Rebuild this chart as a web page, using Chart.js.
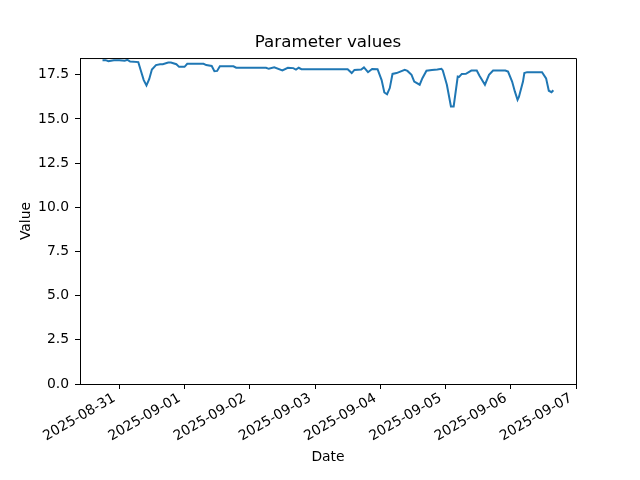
<!DOCTYPE html>
<html>
<head>
<meta charset="utf-8">
<script src="https://cdn.jsdelivr.net/npm/chart.js@4.4.1/dist/chart.umd.min.js"></script>
<style>
  html, body { margin: 0; padding: 0; background: #fff; }
</style>
</head>
<body>
<canvas id="myChart" width="640" height="480"></canvas>
<script>
// readings (time stamps, UTC) and values
const times = [
  '2025-08-30 17:50', '2025-08-30 19:00', '2025-08-30 20:00', '2025-08-30 22:00',
  '2025-08-31 00:00', '2025-08-31 02:00', '2025-08-31 03:00', '2025-08-31 04:00',
  '2025-08-31 07:00', '2025-08-31 08:00', '2025-08-31 09:00', '2025-08-31 10:00',
  '2025-08-31 11:00', '2025-08-31 12:00', '2025-08-31 13:30', '2025-08-31 15:00',
  '2025-08-31 16:00', '2025-08-31 18:00', '2025-08-31 19:00', '2025-08-31 21:00',
  '2025-08-31 22:00', '2025-09-01 00:00', '2025-09-01 01:00', '2025-09-01 07:00',
  '2025-09-01 08:00', '2025-09-01 10:00', '2025-09-01 11:00', '2025-09-01 12:00',
  '2025-09-01 13:00', '2025-09-01 18:00', '2025-09-01 19:00', '2025-09-02 06:00',
  '2025-09-02 07:00', '2025-09-02 09:00', '2025-09-02 12:00', '2025-09-02 14:00',
  '2025-09-02 16:00', '2025-09-02 17:00', '2025-09-02 18:00', '2025-09-02 19:00',
  '2025-09-03 12:00', '2025-09-03 13:30', '2025-09-03 14:30', '2025-09-03 17:00',
  '2025-09-03 18:00', '2025-09-03 19:30', '2025-09-03 21:00', '2025-09-03 23:00',
  '2025-09-04 00:30', '2025-09-04 01:30', '2025-09-04 02:30', '2025-09-04 03:30',
  '2025-09-04 04:30', '2025-09-04 06:00', '2025-09-04 09:00', '2025-09-04 10:00',
  '2025-09-04 11:30', '2025-09-04 12:30', '2025-09-04 14:30', '2025-09-04 15:30',
  '2025-09-04 17:00', '2025-09-04 19:00', '2025-09-04 21:00', '2025-09-04 22:30',
  '2025-09-04 23:00', '2025-09-05 00:30', '2025-09-05 02:00', '2025-09-05 03:00',
  '2025-09-05 04:30', '2025-09-05 05:00', '2025-09-05 06:00', '2025-09-05 07:30',
  '2025-09-05 09:30', '2025-09-05 11:30', '2025-09-05 12:30', '2025-09-05 14:30',
  '2025-09-05 16:00', '2025-09-05 17:30', '2025-09-05 22:00', '2025-09-05 23:00',
  '2025-09-06 00:30', '2025-09-06 01:30', '2025-09-06 02:30', '2025-09-06 03:00',
  '2025-09-06 04:30', '2025-09-06 05:00', '2025-09-06 06:00', '2025-09-06 11:30',
  '2025-09-06 13:00', '2025-09-06 14:00', '2025-09-06 15:00', '2025-09-06 15:40'
];
const values = [
  18.33, 18.33, 18.27, 18.33,
  18.33, 18.30, 18.35, 18.25,
  18.22, 17.70, 17.20, 16.90,
  17.25, 17.80, 18.05, 18.10,
  18.10, 18.20, 18.20, 18.10,
  17.95, 17.95, 18.12, 18.12,
  18.05, 18.00, 17.70, 17.72,
  17.98, 17.98, 17.90, 17.90,
  17.84, 17.92, 17.75, 17.90,
  17.88, 17.80, 17.90, 17.82,
  17.82, 17.60, 17.78, 17.80,
  17.92, 17.65, 17.83, 17.82,
  17.20, 16.50, 16.40, 16.75,
  17.55, 17.60, 17.78, 17.72,
  17.50, 17.12, 16.94, 17.31,
  17.73, 17.77, 17.80, 17.84,
  17.75, 16.94, 15.71, 15.71,
  17.40, 17.38, 17.55, 17.56,
  17.74, 17.74, 17.45, 16.94,
  17.50, 17.74, 17.74, 17.68,
  17.12, 16.56, 16.09, 16.25,
  17.12, 17.60, 17.65, 17.65,
  17.30, 16.60, 16.52, 16.63
];

// axis ranges (days counted from 2025-08-31) and y tick step
const baseDay = '2025-08-31';
const xRange = [-0.602, 7.0];
const yRange = [0, 18.45];
const yStep = 2.5;

const DAY = 86400000;
const base = Date.parse(baseDay + 'T00:00:00Z');

function toDays(t) {
  return (Date.parse(t.replace(' ', 'T') + ':00Z') - base) / DAY;
}

const points = times.map((t, i) => ({ x: toDays(t), y: values[i] }));

// rechter und oberer Rahmen wie bei matplotlib
const frame = {
  id: 'frame',
  afterDraw(chart) {
    const a = chart.chartArea;
    const ctx = chart.ctx;
    ctx.save();
    ctx.strokeStyle = '#000';
    ctx.lineWidth = 1;
    ctx.beginPath();
    ctx.moveTo(a.left, a.top + 0.5);
    ctx.lineTo(a.right + 0.5, a.top + 0.5);
    ctx.lineTo(a.right + 0.5, a.bottom);
    ctx.stroke();
    ctx.restore();
  }
};

const font = 'DejaVu Sans';

const myChart = new Chart(document.getElementById('myChart'), {
  type: 'line',
  data: {
    datasets: [{
      data: points,
      borderColor: '#1f77b4',
      borderWidth: 2,
      pointRadius: 0,
      tension: 0,
      fill: false
    }]
  },
  options: {
    responsive: false,
    animation: false,
    parsing: false,
    layout: { padding: { left: 16, right: 0, top: 0, bottom: 0 } },
    plugins: {
      legend: { display: false },
      tooltip: { enabled: false },
      title: {
        display: true,
        text: 'Parameter values',
        color: '#000',
        font: { family: font, size: 16.7, weight: 'normal' },
        padding: { top: 33, bottom: 5 }
      }
    },
    scales: {
      x: {
        type: 'linear',
        min: xRange[0],
        max: xRange[1],
        afterFit(scale) { scale.height = 96; },
        border: { display: true, color: '#000', width: 1 },
        grid: { drawOnChartArea: false, drawTicks: true, tickLength: 5, color: '#000' },
        ticks: {
          stepSize: 1,
          includeBounds: false,
          autoSkip: false,
          maxRotation: 30,
          minRotation: 30,
          padding: 1,
          labelOffset: -5,
          color: '#000',
          font: { family: font, size: 13.9 },
          callback: v => new Date(base + v * DAY).toISOString().slice(0, 10)
        },
        title: {
          display: true,
          text: 'Date',
          color: '#000',
          font: { family: font, size: 13.9 },
          padding: { top: 0, bottom: 14.6 }
        }
      },
      y: {
        min: yRange[0],
        max: yRange[1],
        afterFit(scale) { scale.width = 64; },
        border: { display: true, color: '#000', width: 1 },
        grid: { drawOnChartArea: false, drawTicks: true, tickLength: 5, color: '#000' },
        ticks: {
          stepSize: yStep,
          includeBounds: false,
          padding: 6,
          color: '#000',
          font: { family: font, size: 13.9 },
          callback: v => v.toFixed(1)
        },
        title: {
          display: true,
          text: 'Value',
          color: '#000',
          font: { family: font, size: 13.9 },
          padding: { top: 1.7, bottom: 0 }
        }
      },
      // leere rechte Achse, nur als Platzhalter fuer den rechten Rand
      y2: {
        position: 'right',
        afterFit(scale) { scale.width = 64; },
        border: { display: false },
        grid: { display: false },
        ticks: { display: false }
      }
    }
  },
  plugins: [frame]
});
</script>
</body>
</html>
